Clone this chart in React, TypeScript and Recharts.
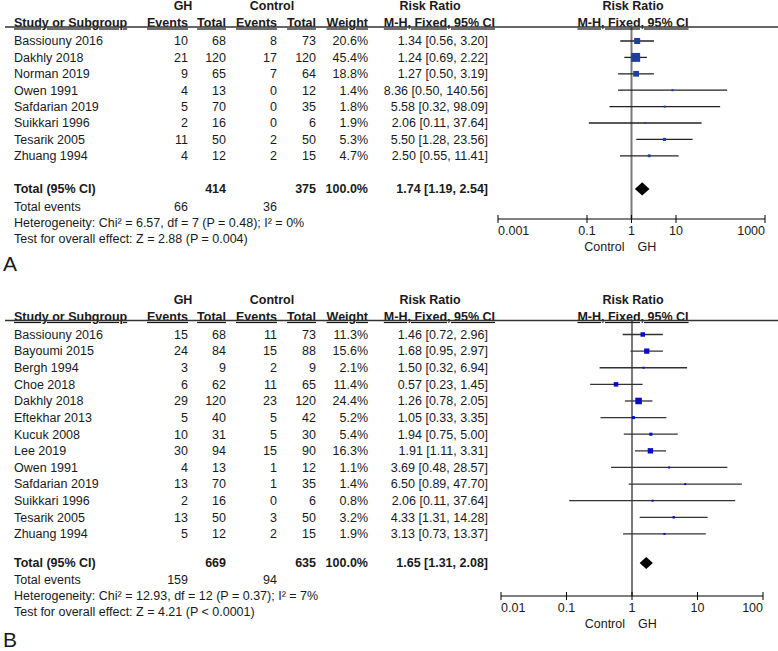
import React from 'react';
import { ScatterChart, XAxis, YAxis, Scatter, ReferenceLine, ReferenceArea } from 'recharts';

const FONT = '"Liberation Sans", Arial, sans-serif';
const FS = 12.5;
const TXT = '#1a1a1a';

// ---------- Panel A data ----------
const studiesA = ['Bassiouny 2016', 'Dakhly 2018', 'Norman 2019', 'Owen 1991', 'Safdarian 2019', 'Suikkari 1996', 'Tesarik 2005', 'Zhuang 1994'];
const ghEventsA = [10, 21, 9, 4, 5, 2, 11, 4];
const ghTotalA = [68, 120, 65, 13, 70, 16, 50, 12];
const ctrlEventsA = [8, 17, 7, 0, 0, 0, 2, 2];
const ctrlTotalA = [73, 120, 64, 12, 35, 6, 50, 15];
const weightA = [20.6, 45.4, 18.8, 1.4, 1.8, 1.9, 5.3, 4.7];
const rrA = [1.34, 1.24, 1.27, 8.36, 5.58, 2.06, 5.5, 2.5];
const loA = [0.56, 0.69, 0.5, 0.5, 0.32, 0.11, 1.28, 0.55];
const hiA = [3.2, 2.22, 3.19, 140.56, 98.09, 37.64, 23.56, 11.41];
const totalsA = [414, 375]; // GH total, Control total
const totalEventsA = [66, 36];
const pooledA = [1.74, 1.19, 2.54];
const hetA = 'Heterogeneity: Chi² = 6.57, df = 7 (P = 0.48); I² = 0%';
const testA = 'Test for overall effect: Z = 2.88 (P = 0.004)';
const ticksA = [0.001, 0.1, 1, 10, 1000];

// ---------- Panel B data ----------
const studiesB = ['Bassiouny 2016', 'Bayoumi 2015', 'Bergh 1994', 'Choe 2018', 'Dakhly 2018', 'Eftekhar 2013', 'Kucuk 2008', 'Lee 2019', 'Owen 1991', 'Safdarian 2019', 'Suikkari 1996', 'Tesarik 2005', 'Zhuang 1994'];
const ghEventsB = [15, 24, 3, 6, 29, 5, 10, 30, 4, 13, 2, 13, 5];
const ghTotalB = [68, 84, 9, 62, 120, 40, 31, 94, 13, 70, 16, 50, 12];
const ctrlEventsB = [11, 15, 2, 11, 23, 5, 5, 15, 1, 1, 0, 3, 2];
const ctrlTotalB = [73, 88, 9, 65, 120, 42, 30, 90, 12, 35, 6, 50, 15];
const weightB = [11.3, 15.6, 2.1, 11.4, 24.4, 5.2, 5.4, 16.3, 1.1, 1.4, 0.8, 3.2, 1.9];
const rrB = [1.46, 1.68, 1.5, 0.57, 1.26, 1.05, 1.94, 1.91, 3.69, 6.5, 2.06, 4.33, 3.13];
const loB = [0.72, 0.95, 0.32, 0.23, 0.78, 0.33, 0.75, 1.11, 0.48, 0.89, 0.11, 1.31, 0.73];
const hiB = [2.96, 2.97, 6.94, 1.45, 2.05, 3.35, 5.0, 3.31, 28.57, 47.7, 37.64, 14.28, 13.37];
const totalsB = [669, 635];
const totalEventsB = [159, 94];
const pooledB = [1.65, 1.31, 2.08];
const hetB = 'Heterogeneity: Chi² = 12.93, df = 12 (P = 0.37); I² = 7%';
const testB = 'Test for overall effect: Z = 4.21 (P < 0.0001)';
const ticksB = [0.01, 0.1, 1, 10, 100];

const ciText = (r: number, l: number, h: number) => `${r.toFixed(2)} [${l.toFixed(2)}, ${h.toFixed(2)}]`;

type Cfg = {
  label: string;
  studies: string[]; ghEv: number[]; ghTot: number[]; ctEv: number[]; ctTot: number[];
  weight: number[]; rr: number[]; lo: number[]; hi: number[];
  totals: number[]; totalEvents: number[]; pooled: number[]; het: string; test: string;
  ticks: number[];
  height: number; marginTop: number; marginBottom: number; marginRight: number; yAxisWidth: number;
  domainY: [number, number]; totalRow: number; eventsRow: number; labelOffset: number;
  squareColor: string; ciColor: string; diamondHalf: number;
};

const T = (p: any) => (
  <text fontFamily={FONT} fontSize={FS} fill={TXT} dy="0.35em" {...p} />
);

function makeRowTick(cfg: Cfg) {
  return (props: any) => {
    const { y, payload } = props;
    const v = payload.value as number;
    const idx = cfg.studies.findIndex((_, i) => Math.abs(i - v) < 1e-6);
    if (idx >= 0) {
      return (
        <g>
          {idx === 0 && (
            <g>
              <T x={183} y={y - 35} textAnchor="middle" fontWeight="bold">GH</T>
              <T x={272} y={y - 35} textAnchor="middle" fontWeight="bold">Control</T>
              <T x={430} y={y - 35} textAnchor="middle" fontWeight="bold">Risk Ratio</T>
              <T x={633} y={y - 35} textAnchor="middle" fontWeight="bold">Risk Ratio</T>
              <T x={14} y={y - 18} fontWeight="bold" textDecoration="underline">Study or Subgroup</T>
              <T x={188} y={y - 18} textAnchor="end" fontWeight="bold" textDecoration="underline">Events</T>
              <T x={226} y={y - 18} textAnchor="end" fontWeight="bold" textDecoration="underline">Total</T>
              <T x={277} y={y - 18} textAnchor="end" fontWeight="bold" textDecoration="underline">Events</T>
              <T x={316} y={y - 18} textAnchor="end" fontWeight="bold" textDecoration="underline">Total</T>
              <T x={368} y={y - 18} textAnchor="end" fontWeight="bold" textDecoration="underline">Weight</T>
              <T x={495} y={y - 18} textAnchor="end" fontWeight="bold" textDecoration="underline">M-H, Fixed, 95% CI</T>
              <T x={633} y={y - 18} textAnchor="middle" fontWeight="bold" textDecoration="underline">M-H, Fixed, 95% CI</T>
              <line x1={5} x2={778} y1={y - 14} y2={y - 14} stroke="#333" strokeWidth={1.5} />
            </g>
          )}
          <T x={14} y={y}>{cfg.studies[idx]}</T>
          <T x={188} y={y} textAnchor="end">{cfg.ghEv[idx]}</T>
          <T x={226} y={y} textAnchor="end">{cfg.ghTot[idx]}</T>
          <T x={277} y={y} textAnchor="end">{cfg.ctEv[idx]}</T>
          <T x={316} y={y} textAnchor="end">{cfg.ctTot[idx]}</T>
          <T x={368} y={y} textAnchor="end">{cfg.weight[idx].toFixed(1)}%</T>
          <T x={488} y={y} textAnchor="end">{ciText(cfg.rr[idx], cfg.lo[idx], cfg.hi[idx])}</T>
        </g>
      );
    }
    if (Math.abs(v - cfg.totalRow) < 1e-6) {
      return (
        <g>
          <T x={14} y={y} fontWeight="bold">Total (95% CI)</T>
          <T x={226} y={y} textAnchor="end" fontWeight="bold">{cfg.totals[0]}</T>
          <T x={316} y={y} textAnchor="end" fontWeight="bold">{cfg.totals[1]}</T>
          <T x={368} y={y} textAnchor="end" fontWeight="bold">100.0%</T>
          <T x={488} y={y} textAnchor="end" fontWeight="bold">{ciText(cfg.pooled[0], cfg.pooled[1], cfg.pooled[2])}</T>
        </g>
      );
    }
    if (Math.abs(v - cfg.eventsRow) < 1e-6) {
      return (
        <g>
          <T x={14} y={y}>Total events</T>
          <T x={188} y={y} textAnchor="end">{cfg.totalEvents[0]}</T>
          <T x={277} y={y} textAnchor="end">{cfg.totalEvents[1]}</T>
          <T x={14} y={y + 15.5}>{cfg.het}</T>
          <T x={14} y={y + 31.5}>{cfg.test}</T>
          <T x={3} y={y + cfg.labelOffset} fontSize={21}>{cfg.label}</T>
        </g>
      );
    }
    return <g />;
  };
}

function makeXTick(ticks: number[]) {
  return (props: any) => {
    const { x, y, payload } = props;
    const v = payload.value as number;
    const anchor = v === ticks[0] ? 'start' : v === ticks[ticks.length - 1] ? 'end' : 'middle';
    return (
      <g>
        <line x1={x} x2={x} y1={y - 4} y2={y + 4} stroke="#000" strokeWidth={1} />
        <T x={x} y={y + 11.5} textAnchor={anchor}>{String(v)}</T>
        {v === 1 && (
          <g>
            <T x={x - 7} y={y + 28} textAnchor="end">Control</T>
            <T x={x + 6} y={y + 28} textAnchor="start">GH</T>
          </g>
        )}
      </g>
    );
  };
}

function Panel({ cfg }: { cfg: Cfg }) {
  const pts = cfg.studies.map((s, i) => ({ x: cfg.rr[i], y: i, w: cfg.weight[i] }));
  const rowTicks = [...cfg.studies.map((_, i) => i), cfg.totalRow, cfg.eventsRow];
  const Square = (p: any) => {
    const { cx, cy, payload } = p;
    if (cx == null || cy == null) return <g />;
    const s = Math.max(2, 1.33 * Math.sqrt(payload.w));
    return <rect x={cx - s / 2} y={cy - s / 2} width={s} height={s} fill={cfg.squareColor} />;
  };
  const Diamond = (p: any) => {
    const { x, y, width, height } = p;
    const cy = y + height / 2;
    const cx = x + width / 2;
    return (
      <polygon
        points={`${x},${cy} ${cx},${y} ${x + width},${cy} ${cx},${y + height}`}
        fill="#000"
      />
    );
  };
  return (
    <ScatterChart
      width={778}
      height={cfg.height}
      margin={{ top: cfg.marginTop, right: cfg.marginRight, bottom: cfg.marginBottom, left: 0 }}
    >
      <XAxis
        dataKey="x"
        type="number"
        scale="log"
        domain={[cfg.ticks[0], cfg.ticks[cfg.ticks.length - 1]]}
        ticks={cfg.ticks}
        interval={0}
        allowDataOverflow
        height={30}
        tickSize={0}
        tickMargin={0}
        tickLine={false}
        axisLine={{ stroke: '#000', strokeWidth: 1 }}
        tick={makeXTick(cfg.ticks)}
      />
      <YAxis
        dataKey="y"
        type="number"
        reversed
        domain={cfg.domainY}
        allowDataOverflow
        ticks={rowTicks}
        interval={0}
        width={cfg.yAxisWidth}
        axisLine={false}
        tickLine={false}
        tickSize={0}
        tick={makeRowTick(cfg)}
      />
      <ReferenceLine x={1} stroke="#7a7a7a" strokeWidth={2} />
      {cfg.studies.map((s, i) => (
        <ReferenceLine
          key={s}
          segment={[{ x: cfg.lo[i], y: i }, { x: cfg.hi[i], y: i }]}
          stroke={cfg.ciColor}
          strokeWidth={1.3}
        />
      ))}
      <ReferenceArea
        x1={cfg.pooled[1]}
        x2={cfg.pooled[2]}
        y1={cfg.totalRow - cfg.diamondHalf}
        y2={cfg.totalRow + cfg.diamondHalf}
        shape={Diamond}
      />
      <Scatter data={pts} shape={Square} isAnimationActive={false} />
    </ScatterChart>
  );
}

const cfgA: Cfg = {
  label: 'A',
  studies: studiesA, ghEv: ghEventsA, ghTot: ghTotalA, ctEv: ctrlEventsA, ctTot: ctrlTotalA,
  weight: weightA, rr: rrA, lo: loA, hi: hiA,
  totals: totalsA, totalEvents: totalEventsA, pooled: pooledA, het: hetA, test: testA,
  ticks: ticksA,
  height: 285, marginTop: 27, marginBottom: 36, marginRight: 13, yAxisWidth: 498,
  domainY: [-0.854, 10.854], totalRow: 9.02, eventsRow: 10.12, labelOffset: 57,
  squareColor: '#1f3f9c', ciColor: '#222', diamondHalf: 0.4,
};

const cfgB: Cfg = {
  label: 'B',
  studies: studiesB, ghEv: ghEventsB, ghTot: ghTotalB, ctEv: ctrlEventsB, ctTot: ctrlTotalB,
  weight: weightB, rr: rrB, lo: loB, hi: hiB,
  totals: totalsB, totalEvents: totalEventsB, pooled: pooledB, het: hetB, test: testB,
  ticks: ticksB,
  height: 381, marginTop: 51, marginBottom: 25, marginRight: 15, yAxisWidth: 501,
  domainY: [-0.812, 15.734], totalRow: 13.75, eventsRow: 14.77, labelOffset: 60,
  squareColor: '#0a0acc', ciColor: '#333', diamondHalf: 0.36,
};

export default function App() {
  return (
    <div style={{ position: 'absolute', left: 0, top: 0, width: 778, height: 651, background: '#fff' }}>
      <div style={{ position: 'absolute', left: 0, top: 0 }}>
        <Panel cfg={cfgA} />
      </div>
      <div style={{ position: 'absolute', left: 0, top: 270 }}>
        <Panel cfg={cfgB} />
      </div>
    </div>
  );
}
